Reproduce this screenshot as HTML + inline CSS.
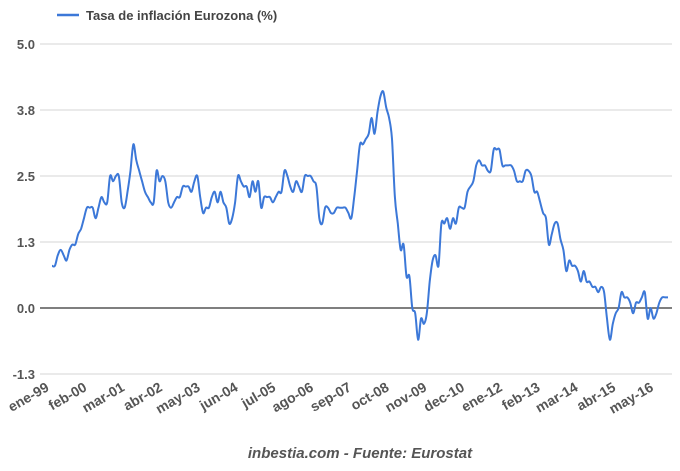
<!DOCTYPE html>
<html><head><meta charset="utf-8"><style>
body{margin:0;background:#fff;font-family:"Liberation Sans",sans-serif}
svg text{font-family:"Liberation Sans",sans-serif}
</style></head><body>
<svg id="chart" width="680" height="466">
<g>
<line x1="57" y1="15" x2="79" y2="15" stroke="#3c78d8" stroke-width="2.5"/>
<text x="86" y="20" font-size="13" font-weight="bold" fill="#444">Tasa de inflación Eurozona (%)</text>
</g>
<g id="grid"></g><g id="xl"></g><g id="series"></g>
<text x="360" y="458" font-size="15" font-weight="bold" font-style="italic" fill="#555" text-anchor="middle">inbestia.com - Fuente: Eurostat</text>
</svg>
<script>
const yTicks=[5,3.75,2.5,1.25,0,-1.25];
const yTickLabels=["5.0","3.8","2.5","1.3","0.0","-1.3"];
const xLabels=["ene-99","feb-00","mar-01","abr-02","may-03","jun-04","jul-05","ago-06","sep-07","oct-08","nov-09","dec-10","ene-12","feb-13","mar-14","abr-15","may-16"];
const inflation=[
0.8,0.8,1.0,1.1,1.0,0.9,1.1,1.2,1.2,1.4,1.5,1.7,
1.9,1.9,1.9,1.7,1.9,2.1,2.0,2.0,2.5,2.4,2.5,2.5,
2.0,1.9,2.2,2.6,3.1,2.8,2.6,2.4,2.2,2.1,2.0,2.0,
2.6,2.4,2.5,2.4,2.0,1.9,2.0,2.1,2.1,2.3,2.3,2.3,
2.2,2.4,2.5,2.1,1.8,1.9,1.9,2.1,2.2,2.0,2.2,2.0,
1.9,1.6,1.7,2.0,2.5,2.4,2.3,2.3,2.1,2.4,2.2,2.4,
1.9,2.1,2.1,2.1,2.0,2.1,2.2,2.2,2.6,2.5,2.3,2.2,
2.4,2.3,2.2,2.5,2.5,2.5,2.4,2.3,1.7,1.6,1.9,1.9,
1.8,1.8,1.9,1.9,1.9,1.9,1.8,1.7,2.1,2.6,3.1,3.1,
3.2,3.3,3.6,3.3,3.7,4.0,4.1,3.8,3.6,3.2,2.1,1.6,
1.1,1.2,0.6,0.6,0.0,-0.1,-0.6,-0.2,-0.3,-0.1,0.5,0.9,
1.0,0.8,1.6,1.6,1.7,1.5,1.7,1.6,1.9,1.9,1.9,2.2,
2.3,2.4,2.7,2.8,2.7,2.7,2.6,2.6,3.0,3.0,3.0,2.7,
2.7,2.7,2.7,2.6,2.4,2.4,2.4,2.6,2.6,2.5,2.2,2.2,
2.0,1.8,1.7,1.2,1.4,1.6,1.6,1.3,1.1,0.7,0.9,0.8,
0.8,0.7,0.5,0.7,0.5,0.5,0.4,0.4,0.3,0.4,0.3,-0.2,
-0.6,-0.3,-0.1,0.0,0.3,0.2,0.2,0.1,-0.1,0.1,0.1,0.2,
0.3,-0.2,0.0,-0.2,-0.1,0.1,0.2,0.2,0.2];
const NS="http://www.w3.org/2000/svg";
const x0=52,x1=668;
const X=i=>x0+i*(x1-x0)/(inflation.length-1);
const Y=v=>308-v*66/1.25;
function mk(t,a,p){const e=document.createElementNS(NS,t);for(const k in a)e.setAttribute(k,a[k]);p.appendChild(e);return e;}
const g=document.getElementById('grid');
yTicks.forEach((v,i)=>{
 const l=mk('line',{x1:40,x2:672,y1:Y(v),y2:Y(v),stroke:v===0?'#333':'#e3e3e3','stroke-width':v===0?1.2:1.5},g);
 
 
 const t=mk('text',{x:35,y:Y(v)+5,'text-anchor':'end','font-size':13,'font-weight':'bold',fill:'#555'},g);
 t.textContent=yTickLabels[i];
 
 
});
const xl=document.getElementById('xl');
xLabels.forEach((s,i)=>{
 const x=X(i*13);
 const t=mk('text',{x:x-2,y:390,'text-anchor':'end','font-size':14,'font-weight':'bold',fill:'#555',transform:`rotate(-30 ${x-2} 390)`},xl);
 t.textContent=s;
 
 
});
const pts=inflation.map((v,i)=>[X(i),Y(v)]);
let d='M'+pts[0][0].toFixed(1)+' '+pts[0][1].toFixed(1);
for(let i=0;i<pts.length-1;i++){
 const p0=pts[Math.max(0,i-1)],p1=pts[i],p2=pts[i+1],p3=pts[Math.min(pts.length-1,i+2)];
 const k=0.25;
 const c1=[p1[0]+(p2[0]-p0[0])*k/1.5,p1[1]+(p2[1]-p0[1])*k/1.5];
 const c2=[p2[0]-(p3[0]-p1[0])*k/1.5,p2[1]-(p3[1]-p1[1])*k/1.5];
 d+=`C${c1[0].toFixed(1)} ${c1[1].toFixed(1)} ${c2[0].toFixed(1)} ${c2[1].toFixed(1)} ${p2[0].toFixed(1)} ${p2[1].toFixed(1)}`;
}
const p=mk('path',{d:d,fill:'none',stroke:'#3c78d8','stroke-width':2,'stroke-linejoin':'round'},document.getElementById('series'));


</script>
</body></html>
